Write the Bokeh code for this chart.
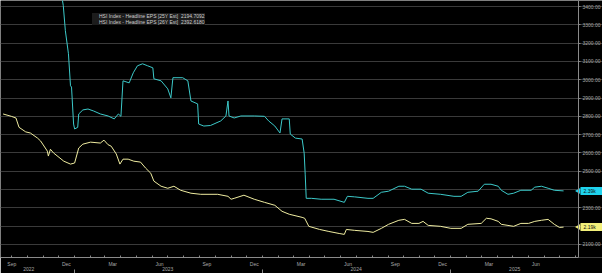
import math
import pandas as pd
from bokeh.plotting import figure
from bokeh.models import (Range1d, FixedTicker, LinearAxis, Legend, LegendItem,
                          Label, ColumnDataSource)
from bokeh.embed import file_html
from bokeh.resources import INLINE

# ---------------- data ----------------
eps25_dates = ["2022-08-15","2022-08-31","2022-09-09","2022-09-15","2022-09-28","2022-10-07","2022-10-21",
    "2022-10-27","2022-11-09","2022-11-11","2022-11-15","2022-11-21","2022-12-11","2022-12-24","2023-01-01",
    "2023-01-09","2023-01-17","2023-02-01","2023-02-20","2023-02-27","2023-03-07","2023-03-13","2023-03-23",
    "2023-03-30","2023-04-05","2023-04-15","2023-04-26","2023-05-09","2023-05-19","2023-05-29","2023-06-04",
    "2023-06-18","2023-07-01","2023-07-13","2023-07-26","2023-08-15","2023-09-03","2023-10-06","2023-10-26",
    "2023-11-01","2023-11-07","2023-11-26","2023-12-16","2024-01-05","2024-01-25","2024-02-08","2024-02-22",
    "2024-03-18","2024-03-23","2024-03-31","2024-04-21","2024-05-09","2024-05-29","2024-06-08","2024-06-12",
    "2024-06-28","2024-07-24","2024-08-03","2024-08-19","2024-09-02","2024-09-22","2024-10-03","2024-10-17",
    "2024-10-31","2024-11-08","2024-11-18","2024-12-12","2025-01-01","2025-01-21","2025-02-03","2025-03-01",
    "2025-03-11","2025-03-20","2025-04-03","2025-04-09","2025-04-22","2025-05-03","2025-05-17","2025-06-01",
    "2025-06-13","2025-06-26","2025-07-09","2025-07-21","2025-07-31","2025-08-08"]
eps25_values = [2813,2800,2791,2740,2715,2709,2681,2665,2610,2583,2620,2600,2555,2539,2545,2627,2648,2659,
    2654,2670,2645,2637,2594,2539,2566,2566,2555,2550,2517,2489,2446,2418,2407,2418,2396,2380,2374,2374,
    2363,2347,2352,2369,2347,2330,2314,2281,2265,2248,2243,2199,2182,2171,2160,2155,2182,2177,2171,2166,
    2188,2210,2232,2237,2215,2215,2226,2204,2199,2188,2188,2210,2215,2243,2240,2226,2210,2204,2199,2215,
    2215,2226,2232,2237,2210,2193,2194.7092]

eps26_dates = ["2022-12-08","2022-12-10","2022-12-14","2022-12-20","2022-12-24","2022-12-26","2022-12-30",
    "2023-01-01","2023-01-07","2023-01-09","2023-01-17","2023-01-27","2023-02-07","2023-02-20","2023-03-07",
    "2023-03-19","2023-03-27","2023-04-01","2023-04-05","2023-04-17","2023-04-25","2023-05-03","2023-05-13",
    "2023-05-23","2023-06-02","2023-06-04","2023-06-18","2023-07-01","2023-07-07","2023-07-11","2023-07-30",
    "2023-08-09","2023-08-15","2023-08-28","2023-08-30","2023-09-09","2023-09-22","2023-10-12","2023-10-22",
    "2023-10-26","2023-10-28","2023-11-07","2023-11-20","2023-12-16","2024-01-05","2024-01-13","2024-01-25",
    "2024-02-04","2024-02-08","2024-02-22","2024-02-24","2024-03-05","2024-03-18","2024-03-22","2024-03-24",
    "2024-03-26","2024-04-05","2024-04-24","2024-05-19","2024-06-08","2024-06-14","2024-06-28","2024-07-24",
    "2024-08-03","2024-08-19","2024-09-02","2024-09-22","2024-10-03","2024-10-17","2024-11-04","2024-11-18",
    "2024-12-12","2025-01-07","2025-01-21","2025-02-03","2025-02-23","2025-03-07","2025-03-20","2025-04-03",
    "2025-04-09","2025-04-22","2025-05-03","2025-05-17","2025-06-06","2025-06-13","2025-06-26","2025-07-09",
    "2025-07-21","2025-08-08"]
eps26_values = [3440,3405,3268,3142,2967,2960,2758,2731,2740,2813,2835,2840,2829,2813,2802,2786,2813,2800,
    2994,2983,3038,3076,3087,3076,3065,3005,2994,2950,2901,3011,3011,2994,2884,2868,2758,2747,2750,2775,
    2802,2884,2802,2791,2802,2802,2800,2775,2747,2709,2786,2786,2703,2681,2676,2599,2484,2352,2352,2347,
    2347,2330,2363,2360,2352,2352,2385,2391,2418,2418,2402,2402,2380,2374,2363,2363,2385,2391,2429,2429,
    2418,2396,2374,2380,2396,2396,2413,2418,2407,2396,2392.6180]

series_names = ["HSI Index - Headline EPS [25Y Est]  2194.7092",
                "HSI Index - Headline EPS [26Y Est]  2392.6180"]
last_labels = ["2.19k", "2.39k"]

y_ticks = [2100, 2300, 2500, 2600, 2700, 2800, 2900, 3000, 3100, 3200, 3300, 3400]
y_grid = [2100, 2200, 2300, 2400, 2500, 2600, 2700, 2800, 2900, 3000, 3100, 3200, 3300, 3400]
month_label_dates = ["2022-09-01","2022-12-16","2023-03-16","2023-06-15","2023-09-15","2023-12-16",
                     "2024-03-16","2024-06-15","2024-09-15","2024-12-16","2025-03-16","2025-06-15"]
month_labels = ["Sep","Dec","Mar","Jun","Sep","Dec","Mar","Jun","Sep","Dec","Mar","Jun"]
year_label_dates = ["2022-10-04","2023-07-01","2024-07-01","2025-05-05"]
year_labels = ["2022","2023","2024","2025"]
year_start_dates = ["2023-01-01","2024-01-01","2025-01-01"]
quarter_dates = ["2022-10-01","2023-01-01","2023-04-01","2023-07-01","2023-10-01","2024-01-01",
                 "2024-04-01","2024-07-01","2024-10-01","2025-01-01","2025-04-01","2025-07-01"]

# ---------------- helpers ----------------
def ms(d):
    return pd.Timestamp(d).value / 1e6

W, H = 602, 273
AXIS_PX = 578          # where the value axis sits inside the 602px-wide frame
x_start, x_axis = ms("2022-08-10"), ms("2025-09-06")
x_end = x_start + (x_axis - x_start) * W / AXIS_PX

YELLOW = "#efeca0"
CYAN = "#3cc9c9"
TXT = "#a8a8a8"
GRID = "#3a3a3a"
AX = "#8a8a8a"
FONT = "Liberation Sans"

p = figure(width=W, height=H, output_backend="svg", toolbar_location=None,
           x_axis_type=None, y_axis_location=None,
           x_range=Range1d(x_start, x_end), y_range=Range1d(2028.7, 3432.9),
           background_fill_color="black", border_fill_color="black",
           min_border_left=0, min_border_top=0, min_border_right=0, min_border_bottom=0)
p.outline_line_color = None

# value axis, pinned at the right edge of the data area
ya = LinearAxis(ticker=FixedTicker(ticks=y_ticks), fixed_location=x_axis)
ya.major_label_overrides = {t: f"{t:.2f}" for t in y_ticks}
ya.axis_line_color = AX
ya.major_tick_line_color = AX
ya.major_tick_out = 2
ya.major_tick_in = 0
ya.minor_tick_line_color = None
ya.minor_tick_out = 0
ya.minor_tick_in = 0
ya.major_label_standoff = 2
ya.major_label_text_font_size = "5px"
ya.major_label_text_font = FONT
ya.major_label_text_color = TXT
p.add_layout(ya, "right")

# bottom axis: months
mticks = [ms(d) for d in month_label_dates]
minor = [ms(f"{y}-{m:02d}-01") for y in (2022, 2023, 2024, 2025) for m in range(1, 13)
         if x_start < ms(f"{y}-{m:02d}-01") < x_axis]
xa = LinearAxis(ticker=FixedTicker(ticks=mticks, minor_ticks=minor), bounds=(x_start, x_axis))
xa.major_label_overrides = {t: l for t, l in zip(mticks, month_labels)}
xa.axis_line_color = AX
xa.major_tick_line_color = None
xa.major_tick_out = 0
xa.major_tick_in = 0
xa.minor_tick_line_color = AX
xa.minor_tick_in = 2
xa.minor_tick_out = 0
xa.major_label_standoff = 3
xa.major_label_text_font_size = "5px"
xa.major_label_text_font = FONT
xa.major_label_text_color = TXT
p.add_layout(xa, "below")

# bottom axis: years (with year separators as minor ticks)
yticks_x = [ms(d) for d in year_label_dates]
xa2 = LinearAxis(ticker=FixedTicker(ticks=yticks_x, minor_ticks=[ms(d) for d in year_start_dates]))
xa2.major_label_overrides = {t: l for t, l in zip(yticks_x, year_labels)}
xa2.axis_line_color = None
xa2.major_tick_line_color = None
xa2.major_tick_out = 0
xa2.major_tick_in = 0
xa2.minor_tick_line_color = AX
xa2.minor_tick_out = 6
xa2.minor_tick_in = 0
xa2.major_label_standoff = -9
xa2.major_label_text_font_size = "5px"
xa2.major_label_text_font = FONT
xa2.major_label_text_color = TXT
p.add_layout(xa2, "below")

# grids
p.xgrid.ticker = FixedTicker(ticks=[ms(d) for d in quarter_dates])
p.ygrid.ticker = FixedTicker(ticks=y_grid)
p.ygrid.bounds = (x_start, x_axis)
for g in (p.xgrid, p.ygrid):
    g.grid_line_color = GRID
    g.grid_line_width = 1

# lines
x25 = [ms(d) for d in eps25_dates]
x26 = [ms(d) for d in eps26_dates]
p.line(x25, eps25_values, line_color=YELLOW, line_width=1)
p.line(x26, eps26_values, line_color=CYAN, line_width=1)

# legend swatches
empty = ColumnDataSource(dict(x=[], y=[]))
r1 = p.rect(x="x", y="y", width=1, height=1, source=empty, fill_color=YELLOW, line_color=None)
r2 = p.rect(x="x", y="y", width=1, height=1, source=empty, fill_color=CYAN, line_color=None)
leg = Legend(items=[LegendItem(label=series_names[0], renderers=[r1]),
                    LegendItem(label=series_names[1], renderers=[r2])],
             location=(92, 232))
leg.background_fill_color = "#1c1c1c"
leg.background_fill_alpha = 1
leg.border_line_color = None
leg.label_text_font_size = "5px"
leg.label_text_font = FONT
leg.label_text_color = "#cfcfcf"
leg.label_height = 5
leg.label_standoff = 3
leg.glyph_width = 4
leg.glyph_height = 4
leg.spacing = 0
leg.padding = 1
leg.margin = 0
p.add_layout(leg, "center")

# last value tags, sitting over the value axis
tag_cols = ["#f3f07a", "#1fd3ee"]
last_vals = [eps25_values[-1], eps26_values[-1]]
p.scatter([x_axis, x_axis], last_vals, marker="triangle", angle=math.pi / 2, size=6,
          fill_color=tag_cols, line_color=None)
for yv, txt, col in zip(last_vals, last_labels, tag_cols):
    lab = Label(x=x_axis, y=yv, x_offset=2, text=txt, text_baseline="middle", text_align="left",
                text_font_size="5px", text_font=FONT, text_color="#101010",
                background_fill_color=col, padding=dict(left=3, right=8, top=1, bottom=1))
    p.add_layout(lab)

open("out.html", "w").write(file_html(p, INLINE))
